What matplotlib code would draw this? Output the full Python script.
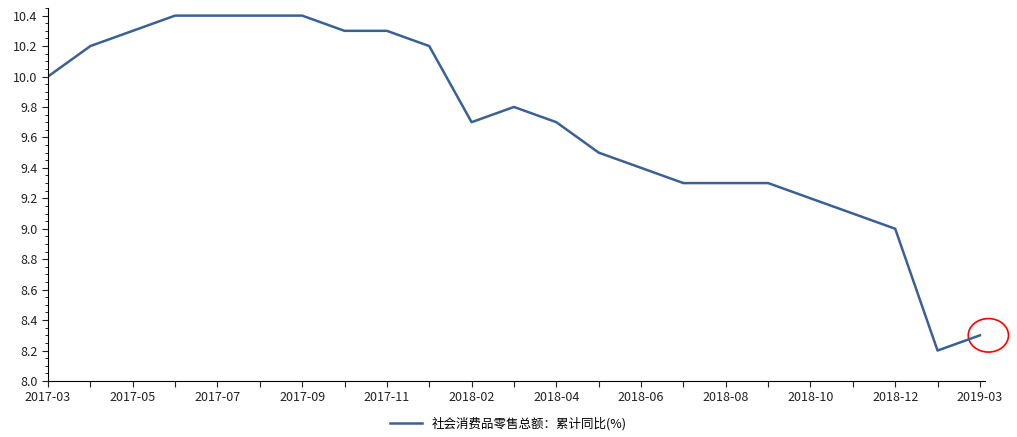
import matplotlib
matplotlib.use("Agg")
import matplotlib.pyplot as plt
from matplotlib.ticker import MultipleLocator
from matplotlib.patches import Ellipse

plt.rcParams['font.family'] = ['Noto Sans CJK SC', 'DejaVu Sans']

months = ["2017-03","2017-04","2017-05","2017-06","2017-07","2017-08","2017-09","2017-10",
          "2017-11","2017-12","2018-02","2018-03","2018-04","2018-05","2018-06","2018-07",
          "2018-08","2018-09","2018-10","2018-11","2018-12","2019-02","2019-03"]
values = [10.0,10.2,10.3,10.4,10.4,10.4,10.4,10.3,10.3,10.2,9.7,9.8,9.7,9.5,9.4,9.3,
          9.3,9.3,9.2,9.1,9.0,8.2,8.3]
label_idx = [0,2,4,6,8,10,12,14,16,18,20,22]
series_name = "社会消费品零售总额：累计同比(%)"

fig = plt.figure(figsize=(10.17,4.37), dpi=100)
ax = fig.add_axes([48/1017, 1-381/437, (985-48)/1017, (381-8)/437])
x = list(range(len(months)))
ax.plot(x, values, color="#3a6194", lw=1.8, label=series_name)
ax.set_xlim(0, 22.12)
ax.set_ylim(8.0, 10.45)
ax.set_xticks(x, minor=False)
ax.set_xticklabels([months[i] if i in label_idx else "" for i in x])
ax.yaxis.set_major_locator(MultipleLocator(0.2))
ax.yaxis.set_minor_locator(MultipleLocator(0.05))
ax.set_yticks([8.0+0.2*i for i in range(13)])
ax.set_yticklabels([f"{8.0+0.2*i:.1f}" for i in range(13)])
for s in ["top","right"]:
    ax.spines[s].set_visible(False)
ax.tick_params(labelsize=9, colors="#222222", length=4)
ax.tick_params(which="minor", length=2)
ax.add_patch(Ellipse((22.2, 8.3), 0.95, 0.22, fill=False, ec="red", lw=1.2, clip_on=False))
fig.legend(loc="lower center", bbox_to_anchor=(0.5, -0.01), frameon=False, fontsize=9,
           handlelength=2.5)
fig.savefig("out.png", dpi=100)
